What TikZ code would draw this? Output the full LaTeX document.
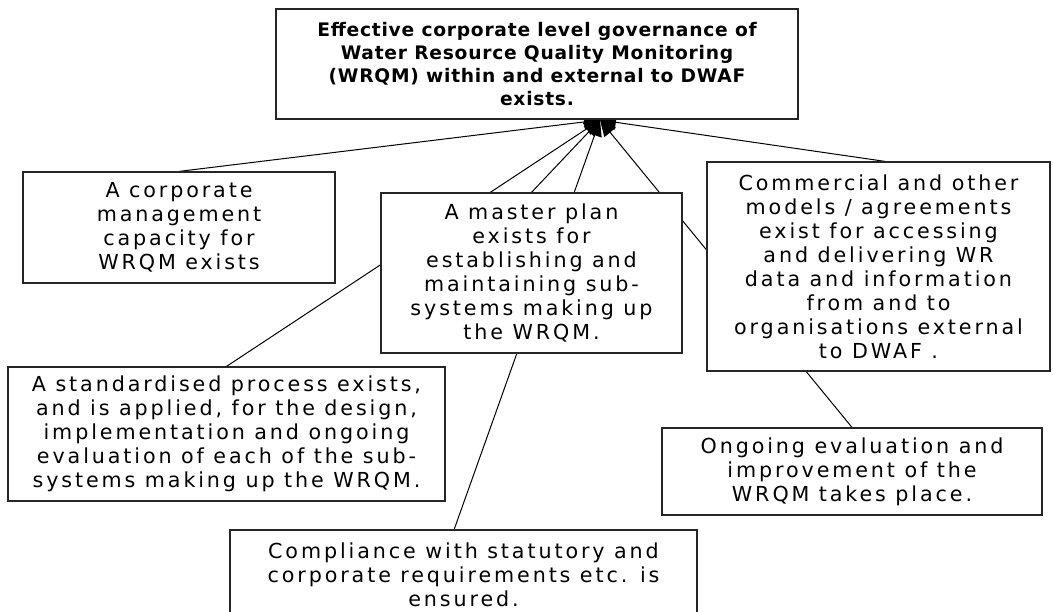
\documentclass[tikz,border=0pt]{standalone}
\usepackage{fontspec}
\newfontfamily\boxfont[LetterSpace=14]{DejaVu Sans}
\newfontfamily\topfont[LetterSpace=4]{DejaVu Sans}
\usetikzlibrary{arrows.meta,backgrounds,calc}
\tikzset{
  box/.style={draw=black!85, line width=0.9pt, fill=white, align=center, inner sep=0pt,
    font=\boxfont\fontsize{15.5}{18}\selectfont},
  topbox/.style={box, font=\topfont\bfseries\fontsize{14}{17.25}\selectfont},
  link/.style={line width=0.75pt, -{Triangle[length=12pt,width=11pt]}},
}
\begin{document}
\begin{tikzpicture}[x=0.75pt,y=-0.75pt]
\useasboundingbox (0,0) rectangle (1053,611);
\clip (0,0) rectangle (1053,611);
\node[topbox, minimum width=391.5pt, minimum height=82.5pt] (top) at (537,64)
  {Effective corporate level governance of\\Water Resource Quality Monitoring\\(WRQM) within and external to DWAF\\exists.};
\node[box, minimum width=234pt, minimum height=83.25pt] (corp) at (179,227.5)
  {A corporate\\management\\capacity for\\WRQM exists};
\node[box, minimum width=225.75pt, minimum height=120pt] (master) at (531.5,273)
  {A master plan\\exists for\\establishing and\\maintaining sub-\\systems making up\\the WRQM.};
\node[box, minimum width=257.25pt, minimum height=156.75pt] (comm) at (878.5,266.5)
  {Commercial and other\\models / agreements\\exist for accessing\\and delivering WR\\data and information\\from and to\\organisations external\\to DWAF .};
\node[box, minimum width=327.75pt, minimum height=100.5pt] (std) at (226.5,434)
  {A standardised process exists,\\and is applied, for the design,\\implementation and ongoing\\evaluation of each of the sub-\\systems making up the WRQM.};
\node[box, minimum width=350.25pt, minimum height=67.5pt] (comp) at (463.5,575)
  {Compliance with statutory and\\corporate requirements etc. is\\ensured.};
\node[box, minimum width=285pt, minimum height=65.25pt] (ong) at (852,471.5)
  {Ongoing evaluation and\\improvement of the\\WRQM takes place.};
\coordinate (tip) at (600,120);
\begin{scope}[on background layer]
\draw[link] (corp.north) -- (tip);
\draw[link] ([xshift=5pt]comm.north) -- (tip);
\draw[link] (master.north) -- (tip);
\draw[link] (std.north) -- (tip);
\draw[link] ([xshift=-7pt]comp.north) -- (tip);
\draw[link] (ong.north) -- (tip);
\end{scope}
\end{tikzpicture}
\end{document}
